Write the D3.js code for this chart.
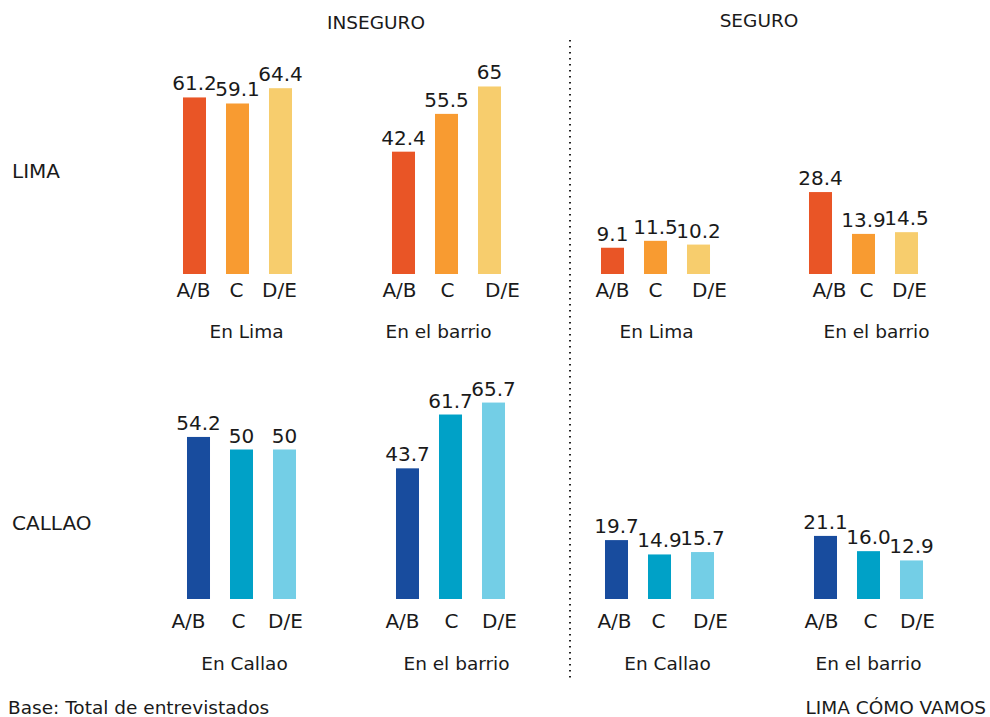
<!DOCTYPE html>
<html><head><meta charset="utf-8">
<script src="https://cdn.jsdelivr.net/npm/d3@7"></script>
<style>
body{margin:0;background:#fff;}
text{font-family:"DejaVu Sans",sans-serif;fill:#1a1a1a;}
</style></head>
<body>
<svg id="c" width="990" height="717"></svg>
<script>
const categories = ["A/B","C","D/E"];
const columnTitles = ["INSEGURO","SEGURO"];
const rowLabels = ["LIMA","CALLAO"];
const limaInseguroEnLima = [61.2,59.1,64.4];
const limaInseguroBarrio = [42.4,55.5,65];
const limaSeguroEnLima = [9.1,11.5,10.2];
const limaSeguroBarrio = [28.4,13.9,14.5];
const callaoInseguroEnCallao = [54.2,50,50];
const callaoInseguroBarrio = [43.7,61.7,65.7];
const callaoSeguroEnCallao = [19.7,14.9,15.7];
const callaoSeguroBarrio = [21.1,16.0,12.9];
const valueLabels = {
  limaSeguroBarrio:["28.4","13.9","14.5"],
  callaoSeguroBarrio:["21.1","16.0","12.9"]
};
const limaColors = ["#E95526","#F89B31","#F7CD6D"];
const callaoColors = ["#184C9E","#00A1C7","#73CEE6"];
const footerLeft = "Base: Total de entrevistados";
const footerRight = "LIMA CÓMO VAMOS";

const svg = d3.select("#c");

// panel layout (catDx: small label offsets seen in the original)
const panels = [
  {vals:limaInseguroEnLima, label:"En Lima", x0:183, row:0, colors:limaColors, catDx:[-1,-1,-1], grpDx:9},
  {vals:limaInseguroBarrio, label:"En el barrio", x0:392, row:0, colors:limaColors, catDx:[-4,1,13], grpDx:-8},
  {vals:limaSeguroEnLima, label:"En Lima", x0:601, row:0, colors:limaColors, catDx:[0,0,11], grpDx:1},
  {vals:limaSeguroBarrio, label:"En el barrio", x0:809, row:0, colors:limaColors, catDx:[9,3,3], grpDx:13, fmt:valueLabels.limaSeguroBarrio},
  {vals:callaoInseguroEnCallao, label:"En Callao", x0:187, row:1, colors:callaoColors, catDx:[-10,-3,1], grpDx:3},
  {vals:callaoInseguroBarrio, label:"En el barrio", x0:396, row:1, colors:callaoColors, catDx:[-5,1,6], grpDx:6},
  {vals:callaoSeguroEnCallao, label:"En Callao", x0:605, row:1, colors:callaoColors, catDx:[-2,-1,8], grpDx:8},
  {vals:callaoSeguroBarrio, label:"En el barrio", x0:814, row:1, colors:callaoColors, catDx:[-4,2,6], grpDx:0, fmt:valueLabels.callaoSeguroBarrio}
];
const rows = [
  {base:274, ppu:2.885, catY:297, grpY:338, rowY:178},
  {base:599, ppu:2.99, catY:628, grpY:670, rowY:530}
];

panels.forEach(p=>{
  const r = rows[p.row];
  const x = d3.scaleBand().domain(categories).range([p.x0-10, p.x0+119]).paddingInner(0.465).paddingOuter(0.2325);
  const y = d3.scaleLinear().domain([0,100]).range([r.base, r.base-100*r.ppu]);
  const g = svg.append("g");
  const data = categories.map((c,i)=>({c, i, v:p.vals[i], col:p.colors[i], lab: p.fmt ? p.fmt[i] : String(p.vals[i])}));
  g.selectAll("rect").data(data).join("rect")
    .attr("x", d=>x(d.c)).attr("width", x.bandwidth())
    .attr("y", d=>y(d.v)).attr("height", d=>y(0)-y(d.v))
    .attr("fill", d=>d.col);
  g.selectAll("text.v").data(data).join("text").attr("class","v")
    .attr("x", d=>x(d.c)+x.bandwidth()/2).attr("y", d=>y(d.v)-7)
    .attr("text-anchor","middle").attr("font-size",20).text(d=>d.lab);
  g.selectAll("text.c").data(data).join("text").attr("class","c")
    .attr("x", d=>x(d.c)+x.bandwidth()/2+p.catDx[d.i]).attr("y", r.catY)
    .attr("text-anchor","middle").attr("font-size",20).text(d=>d.c);
  const first = x(categories[0]), last = x(categories[2])+x.bandwidth();
  g.append("text").attr("x",(first+last)/2+p.grpDx).attr("y",r.grpY)
    .attr("text-anchor","middle").attr("font-size",18.5).text(p.label);
});

// column titles
svg.append("text").attr("x",376).attr("y",29).attr("text-anchor","middle").attr("font-size",18.5).text(columnTitles[0]);
svg.append("text").attr("x",759).attr("y",27).attr("text-anchor","middle").attr("font-size",18.5).text(columnTitles[1]);
// row labels
rowLabels.forEach((t,i)=>{
  svg.append("text").attr("x",12).attr("y",rows[i].rowY).attr("font-size",20).text(t);
});
// divider
svg.append("line").attr("x1",570).attr("x2",570).attr("y1",40).attr("y2",680)
  .attr("stroke","#222").attr("stroke-width",2).attr("stroke-dasharray","1.5,4.5");
// footer
svg.append("text").attr("x",8).attr("y",714).attr("font-size",18.5).text(footerLeft);
svg.append("text").attr("x",986).attr("y",714).attr("text-anchor","end").attr("font-size",18.5).text(footerRight);
</script>
</body></html>
